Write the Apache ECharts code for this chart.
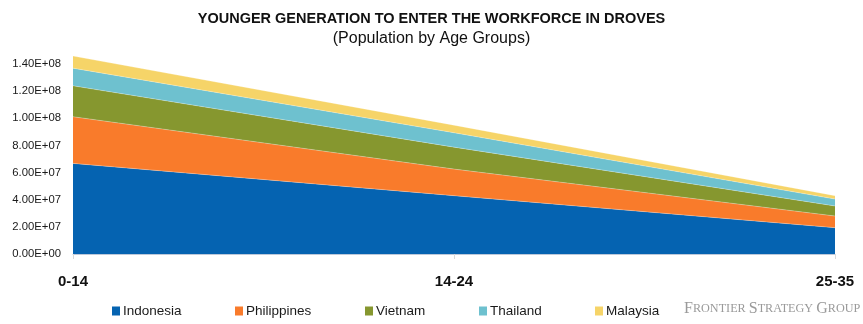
<!DOCTYPE html>
<html>
<head>
<meta charset="utf-8">
<style>
  html, body { margin: 0; padding: 0; background: #fff; }
  #chart { width: 863px; height: 324px; }
</style>
<script src="https://cdn.jsdelivr.net/npm/echarts@6/dist/echarts.min.js"></script>
</head>
<body>
<div id="chart"></div>
<script>
// Age groups on the category axis
const ageGroups = ['0-14', '14-24', '25-35'];

// Population per age group (persons)
const indonesia   = [66.8e6, 43.0e6, 19.4e6];
const philippines = [34.4e6, 19.6e6, 8.6e6];
const vietnam     = [22.8e6, 16.2e6, 7.4e6];
const thailand    = [13.0e6, 10.6e6, 5.1e6];
const malaysia    = [9.0e6, 5.6e6, 2.5e6];

const seriesNames  = ['Indonesia', 'Philippines', 'Vietnam', 'Thailand', 'Malaysia'];
const seriesValues = [indonesia, philippines, vietnam, thailand, malaysia];
const seriesColors = ['#0563B1', '#F97B2B', '#86972F', '#6EC1CF', '#F6D468'];

// Legend box left positions (one legend per series)
const legendLeft = [107, 230, 360, 474, 590];

// Scientific notation like 1.40E+08
function sci(v) {
  if (v === 0) return '0.00E+00';
  const e = Math.floor(Math.log10(Math.abs(v)) + 1e-9);
  const m = (v / Math.pow(10, e)).toFixed(2);
  const sign = e < 0 ? '-' : '+';
  const ex = String(Math.abs(e)).padStart(2, '0');
  return m + 'E' + sign + ex;
}

const chart = echarts.init(document.getElementById('chart'), null, { renderer: 'canvas' });

const legends = seriesNames.map((name, i) => ({
  data: [name],
  left: legendLeft[i],
  top: 299,
  itemWidth: 8,
  itemHeight: 9,
  icon: 'rect',
  itemGap: 3,
  textStyle: { fontFamily: 'Liberation Sans', fontSize: 13.5, color: '#1a1a1a', padding: [0, 0, 0, -2] },
  selectedMode: false
}));

const option = {
  animation: false,
  backgroundColor: '#ffffff',
  title: [
    {
      text: 'YOUNGER GENERATION TO ENTER THE WORKFORCE IN DROVES',
      left: 'center',
      top: 6,
      textStyle: { fontFamily: 'Liberation Sans', fontWeight: 'bold', fontSize: 14.5, color: '#111' }
    },
    {
      text: '(Population by Age Groups)',
      left: 'center',
      top: 26,
      textStyle: { fontFamily: 'Liberation Sans', fontWeight: 'normal', fontSize: 16, color: '#111' }
    }
  ],
  legend: legends,
  grid: { left: 73, right: 28, top: 37, bottom: 70, containLabel: false },
  xAxis: {
    type: 'category',
    data: ageGroups,
    boundaryGap: false,
    axisLine: { lineStyle: { color: '#BCC8DA', width: 1 } },
    axisTick: { show: true, length: 5, lineStyle: { color: '#D9D9D9' } },
    axisLabel: {
      margin: 20,
      fontFamily: 'Liberation Sans',
      fontWeight: 'bold',
      fontSize: 15,
      color: '#111'
    },
    splitLine: { show: false }
  },
  yAxis: {
    type: 'value',
    min: 0,
    max: 160e6,
    interval: 20e6,
    axisLine: { show: false },
    axisTick: { show: false },
    splitLine: { show: false },
    axisLabel: {
      margin: 12,
      fontFamily: 'Liberation Sans',
      fontSize: 11.3,
      color: '#1a1a1a',
      formatter: function (v) { return v > 140e6 ? '' : sci(v); }
    }
  },
  series: seriesNames.map((name, i) => ({
    name: name,
    type: 'line',
    stack: 'population',
    data: seriesValues[i],
    symbol: 'none',
    smooth: false,
    color: seriesColors[i],
    lineStyle: { width: 0.8, color: 'rgba(255,255,255,0.35)' },
    areaStyle: { color: seriesColors[i], opacity: 1 },
    z: 2
  })),
  graphic: [
    {
      type: 'text',
      left: 684,
      top: 301,
      style: {
        text: '{b|F}{s|RONTIER }{b|S}{s|TRATEGY }{b|G}{s|ROUP}',
        rich: {
          b: { fontFamily: 'Liberation Serif', fontSize: 16, fill: '#9a9a9a', color: '#9a9a9a' },
          s: { fontFamily: 'Liberation Serif', fontSize: 12.2, fill: '#9a9a9a', color: '#9a9a9a' }
        }
      }
    }
  ]
};

chart.setOption(option);
</script>
</body>
</html>
